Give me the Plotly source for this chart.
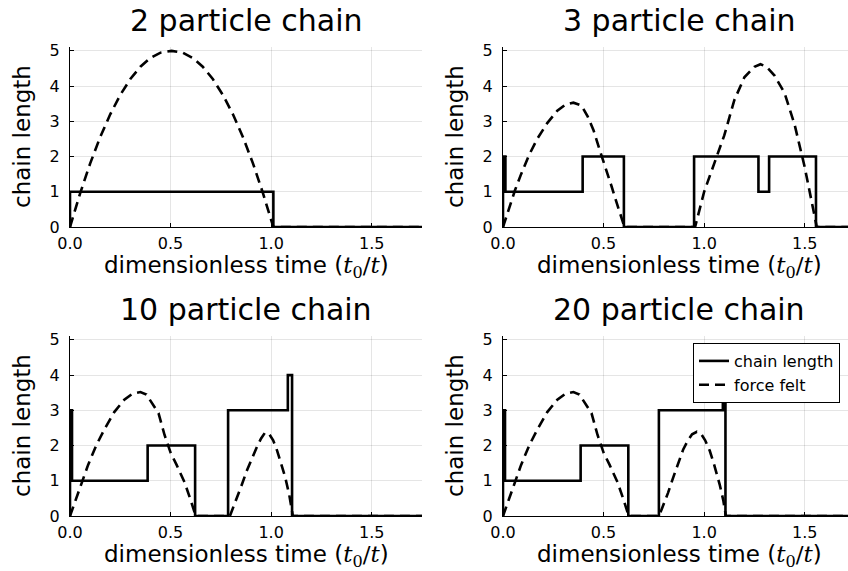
import plotly.graph_objects as go

# ---- data -----------------------------------------------------------------
titles = ["2 particle chain", "3 particle chain", "10 particle chain", "20 particle chain"]

# chain length: step series (value holds until next time)
chain2_t = [0.0, 0.0, 1.011, 1.75]
chain2_n = [0, 1, 0, 0]

chain3_t = [0.0, 0.0, 0.012, 0.396, 0.601, 0.950, 1.270, 1.323, 1.556, 1.75]
chain3_n = [0, 2, 1, 2, 0, 2, 1, 2, 0, 0]

chain10_t = [0.0, 0.0, 0.010, 0.386, 0.622, 0.786, 1.083, 1.104, 1.75]
chain10_n = [0, 3, 1, 2, 0, 3, 4, 0, 0]

chain20_t = [0.0, 0.0, 0.010, 0.386, 0.623, 0.775, 1.093, 1.106, 1.75]
chain20_n = [0, 3, 1, 2, 0, 3, 4, 0, 0]

# force felt
force2_t = [0.0, 0.05, 0.1, 0.15, 0.2, 0.25, 0.3, 0.35, 0.4, 0.45, 0.505,
            0.56, 0.61, 0.66, 0.71, 0.76, 0.81, 0.86, 0.91, 0.96, 1.0, 1.011, 1.75]
force2_f = [0.0, 0.95, 1.8, 2.55, 3.2, 3.75, 4.2, 4.55, 4.8, 4.95, 5.0,
            4.95, 4.8, 4.55, 4.2, 3.75, 3.2, 2.55, 1.8, 0.95, 0.2, 0.0, 0.0]

force3_t = [0.0, 0.03, 0.06, 0.09, 0.13, 0.17, 0.22, 0.27, 0.31, 0.35, 0.39,
            0.42, 0.45, 0.48, 0.51, 0.54, 0.57, 0.59, 0.604,
            0.955, 1.0, 1.05, 1.1, 1.15, 1.2, 1.25, 1.28, 1.31, 1.35,
            1.4, 1.45, 1.5, 1.53, 1.56, 1.75]
force3_f = [0.0, 0.55, 1.05, 1.5, 2.05, 2.5, 2.95, 3.3, 3.47, 3.53, 3.45,
            3.15, 2.75, 2.2, 1.7, 1.15, 0.6, 0.25, 0.0,
            0.0, 1.0, 1.8, 2.6, 3.6, 4.25, 4.55, 4.62, 4.55, 4.3,
            3.8, 2.9, 1.7, 0.9, 0.0, 0.0]

force10_t = [0.0, 0.03, 0.06, 0.09, 0.13, 0.17, 0.22, 0.27, 0.31, 0.35, 0.38,
             0.41, 0.44, 0.47, 0.50, 0.53, 0.57, 0.60, 0.625,
             0.795, 0.83, 0.855, 0.88, 0.905, 0.93, 0.95, 0.97, 0.99, 1.01,
             1.03, 1.05, 1.07, 1.09, 1.108, 1.75]
force10_f = [0.0, 0.5, 1.0, 1.45, 2.0, 2.45, 2.95, 3.3, 3.47, 3.52, 3.45,
             3.2, 2.92, 2.3, 1.8, 1.45, 0.95, 0.45, 0.0,
             0.0, 0.5, 0.9, 1.3, 1.65, 1.97, 2.2, 2.37, 2.33, 2.15,
             1.85, 1.5, 1.1, 0.6, 0.0, 0.0]

force20_t = [0.0, 0.03, 0.06, 0.09, 0.13, 0.17, 0.22, 0.27, 0.31, 0.35, 0.38,
             0.41, 0.44, 0.47, 0.50, 0.53, 0.57, 0.60, 0.625,
             0.776, 0.80, 0.82, 0.846, 0.87, 0.896, 0.92, 0.94, 0.964, 0.985,
             1.005, 1.028, 1.05, 1.077, 1.095, 1.108, 1.75]
force20_f = [0.0, 0.5, 1.0, 1.45, 2.0, 2.45, 2.95, 3.3, 3.47, 3.52, 3.45,
             3.2, 2.92, 2.3, 1.8, 1.45, 0.95, 0.45, 0.0,
             0.0, 0.35, 0.65, 1.09, 1.5, 1.89, 2.15, 2.32, 2.39, 2.33,
             2.15, 1.85, 1.45, 0.9, 0.45, 0.0, 0.0]

chains = [(chain2_t, chain2_n), (chain3_t, chain3_n), (chain10_t, chain10_n), (chain20_t, chain20_n)]
forces = [(force2_t, force2_f), (force3_t, force3_f), (force10_t, force10_f), (force20_t, force20_f)]

x_ticks = [0.0, 0.5, 1.0, 1.5]
x_tick_text = ["0.0", "0.5", "1.0", "1.5"]
y_ticks = [0, 1, 2, 3, 4, 5]

# ---- layout geometry (pixels in an 848 x 571 canvas) ----------------------
W, H = 848, 571
FONT = "DejaVu Sans"
# left, right (px) of each plot column; right column runs past the canvas edge
cols = [(70, 422), (503, 855)]
rows = [(47, 227), (336, 516)]
X_MAX = 1.75
Y_MAX = 5.11

fig = go.Figure()

for i in range(4):
    r, c = divmod(i, 2)
    x0, x1 = cols[c]
    y0, y1 = rows[r]
    ax = "" if i == 0 else str(i + 1)
    px_per_unit = (x1 - x0) / X_MAX
    vis_right = min(x1, W)
    x_end = (vis_right - x0) / px_per_unit

    ct, cn = chains[i]
    ft, ff = forces[i]
    fig.add_trace(go.Scatter(
        x=ct, y=cn, mode="lines", line=dict(color="black", width=2.6, shape="hv"),
        name="chain length", showlegend=(i == 3), legendrank=1,
        xaxis="x" + ax, yaxis="y" + ax))
    fig.add_trace(go.Scatter(
        x=ft, y=ff, mode="lines", line=dict(color="black", width=2.6, dash="10px,6px"),
        name="force felt", showlegend=(i == 3), legendrank=2,
        xaxis="x" + ax, yaxis="y" + ax))

    common = dict(showline=True, linecolor="black", linewidth=1, mirror=False,
                  ticks="inside", ticklen=4, tickcolor="black", tickwidth=1,
                  showgrid=True, gridcolor="rgba(0,0,0,0.1)", gridwidth=1,
                  zeroline=False, automargin=False,
                  tickfont=dict(family=FONT, size=16, color="black"))
    fig.layout["xaxis" + ax] = dict(
        domain=[x0 / W, vis_right / W], range=[0, x_end], anchor="y" + ax,
        tickvals=x_ticks, ticktext=x_tick_text, ticklabelstandoff=2, **common)
    fig.layout["yaxis" + ax] = dict(
        domain=[1 - y1 / H, 1 - y0 / H], range=[0, Y_MAX], anchor="x" + ax,
        tickvals=y_ticks, ticklabelstandoff=6, **common)

    cx = (x0 + x1) / 2 / W
    fig.add_annotation(text=titles[i], x=cx, y=1 - (y0 - 27) / H, xref="paper", yref="paper",
                       showarrow=False, xanchor="center", yanchor="middle",
                       font=dict(family=FONT, size=30, color="black"))
    fig.add_annotation(
        text="dimensionless time (<span style='font-family:DejaVu Serif'><i>t</i><sub>0</sub>/<i>t</i></span>)",
        x=cx, y=1 - (y1 + 40) / H, xref="paper", yref="paper",
        showarrow=False, xanchor="center", yanchor="middle", borderpad=0,
        font=dict(family=FONT, size=23, color="black"))
    fig.add_annotation(text="chain length", x=(x0 - 48) / W, y=1 - (y0 + y1) / 2 / H,
                       xref="paper", yref="paper", textangle=-90, showarrow=False,
                       xanchor="center", yanchor="middle",
                       font=dict(family=FONT, size=23, color="black"))

fig.update_layout(
    template="none",
    width=W, height=H, margin=dict(l=0, r=0, t=0, b=0, autoexpand=False),
    paper_bgcolor="white", plot_bgcolor="white",
    showlegend=True,
    legend=dict(x=693 / W, y=1 - 343 / H, xanchor="left", yanchor="top",
                bgcolor="white", bordercolor="black", borderwidth=1,
                font=dict(family=FONT, size=16, color="black"),
                tracegroupgap=0, itemwidth=30),
)

fig.write_html("out.html")
